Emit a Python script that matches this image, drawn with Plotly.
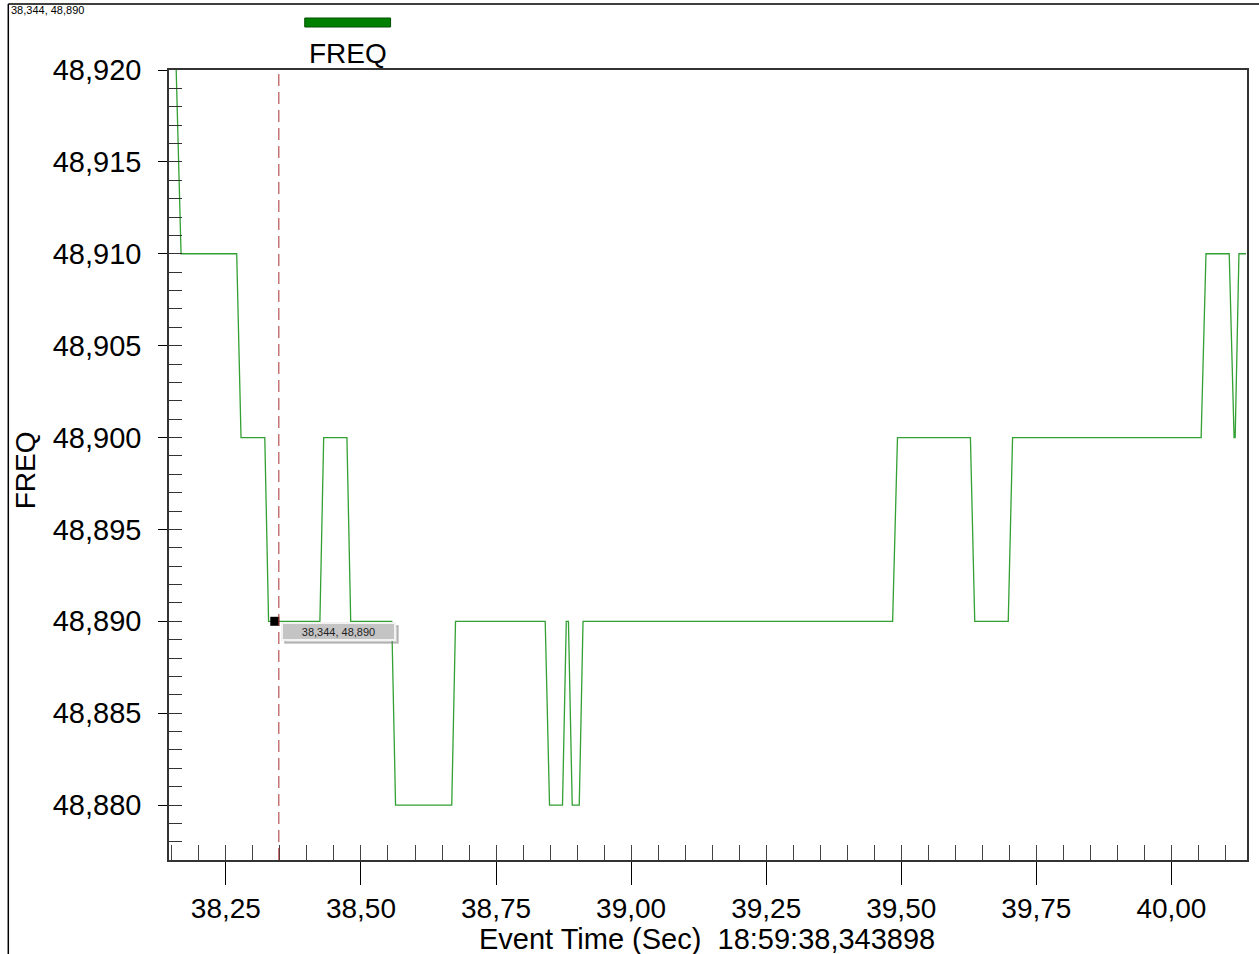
import plotly.graph_objects as go

# ---- data ----
time_s = [38.158, 38.167, 38.270, 38.278, 38.322, 38.329, 38.424, 38.431,
          38.474, 38.481, 38.557, 38.564, 38.668, 38.675, 38.841, 38.849,
          38.873, 38.880, 38.884, 38.891, 38.904, 38.911, 39.484, 39.493,
          39.628, 39.636, 39.698, 39.706, 40.055, 40.064, 40.107, 40.116,
          40.118, 40.125, 40.138]
freq = [48.920, 48.910, 48.910, 48.900, 48.900, 48.890, 48.890, 48.900,
        48.900, 48.890, 48.890, 48.880, 48.880, 48.890, 48.890, 48.880,
        48.880, 48.890, 48.890, 48.880, 48.880, 48.890, 48.890, 48.900,
        48.900, 48.890, 48.890, 48.900, 48.900, 48.910, 48.910, 48.900,
        48.900, 48.910, 48.910]

cursor_t = 38.348
cursor_f = 48.890
cursor_label = "38,344, 48,890"
series_name = "FREQ"
x_title = "Event Time (Sec)  18:59:38,343898"

x_range = [38.1447, 40.1399]
y_range = [48.87701, 48.920]

FONT = "Liberation Sans, Arial, sans-serif"
W, H = 1259, 954
L, R, T, B = 169, 10, 70, 94
PW, PH = W - L - R, H - T - B


def px(xpix):
    return (xpix - L) / PW


def py(ypix):
    return (H - B - ypix) / PH


fig = go.Figure()

# dummy trace so the overlay (minor tick) axes exist
fig.add_trace(go.Scatter(x=time_s, y=freq, xaxis="x2", yaxis="y2",
                         mode="lines", opacity=0, hoverinfo="skip",
                         showlegend=False))

fig.add_trace(go.Scatter(x=time_s, y=freq, mode="lines", name=series_name,
                         line=dict(color="rgb(50,160,50)", width=1.3),
                         showlegend=False))

fig.add_trace(go.Scatter(x=[cursor_t - 0.0075], y=[cursor_f], mode="markers",
                         marker=dict(symbol="square", size=9, color="black"),
                         showlegend=False, hoverinfo="skip"))

axis_common = dict(showgrid=False, zeroline=False)

fig.update_layout(
    width=W, height=H, autosize=False,
    margin=dict(l=L, r=R, t=T, b=B, pad=0),
    paper_bgcolor="white", plot_bgcolor="white",
    separators=",.",
    font=dict(family=FONT, color="black", size=28),
    xaxis=dict(range=x_range, tick0=38.0, dtick=0.25, tickformat=".2f",
               ticks="outside", ticklen=23, tickwidth=1, tickcolor="black",
               showline=True, linecolor="#333", linewidth=1.5, mirror=True,
               tickfont=dict(size=28, family=FONT), **axis_common),
    yaxis=dict(range=y_range, tick0=48.88, dtick=0.005, tickformat=".3f",
               ticks="outside", ticklen=9, tickwidth=1, tickcolor="black",
               showline=True, linecolor="#333", linewidth=1.5, mirror=True,
               ticklabelstandoff=11,
               tickfont=dict(size=29, family=FONT), **axis_common),
    xaxis2=dict(range=x_range, overlaying="x", anchor="y", side="bottom",
                tick0=38.0, dtick=0.05, ticks="inside", ticklen=15,
                tickwidth=1, tickcolor="#444", showticklabels=False,
                showline=False, **axis_common),
    yaxis2=dict(range=y_range, overlaying="y", anchor="x", side="left",
                tick0=48.88, dtick=0.001, ticks="inside", ticklen=13,
                tickwidth=1, tickcolor="#333", showticklabels=False,
                showline=False, **axis_common),
    hovermode=False,
)

shapes = [
    # cursor line
    dict(type="line", xref="x", yref="paper", x0=cursor_t, x1=cursor_t,
         y0=0, y1=1, line=dict(color="#a83030", width=1, dash="12px,6px")),
    # legend swatch
    dict(type="rect", xref="paper", yref="paper",
         x0=px(305), x1=px(391), y0=py(27), y1=py(18),
         fillcolor="#008000", line=dict(color="#005000", width=1)),
    # outer window border
    dict(type="line", xref="paper", yref="paper", x0=px(8), x1=px(1262),
         y0=py(4), y1=py(4), line=dict(color="black", width=1.5)),
    dict(type="line", xref="paper", yref="paper", x0=px(8), x1=px(8),
         y0=py(4), y1=py(960), line=dict(color="black", width=1.5)),
]
fig.update_layout(shapes=shapes)

annotations = [
    # tooltip shadow
    dict(xref="x", yref="y", x=cursor_t, y=cursor_f, xanchor="left",
         yanchor="top", xshift=5, yshift=-4, text=" ", showarrow=False,
         width=111, height=15, borderpad=0, borderwidth=2,
         bordercolor="rgba(120,120,120,0.35)", bgcolor="rgba(120,120,120,0.35)",
         font=dict(size=11, family=FONT)),
    # tooltip
    dict(xref="x", yref="y", x=cursor_t, y=cursor_f, xanchor="left",
         yanchor="top", xshift=2, yshift=-1, text=cursor_label,
         showarrow=False, width=111, height=15, borderpad=0, borderwidth=2,
         bordercolor="#f2f2f2", bgcolor="#c4c4c4",
         font=dict(size=11, family=FONT, color="#222")),
    # top-left readout
    dict(xref="paper", yref="paper", x=px(9), y=py(10), xanchor="left",
         yanchor="middle", text=cursor_label, showarrow=False,
         font=dict(size=11, family=FONT, color="black")),
    # legend label
    dict(xref="paper", yref="paper", x=px(348), y=py(54), xanchor="center",
         yanchor="middle", text=series_name, showarrow=False,
         font=dict(size=28, family=FONT, color="black")),
    # y title
    dict(xref="paper", yref="paper", x=px(25), y=py(470), xanchor="center",
         yanchor="middle", text=series_name, textangle=-90, showarrow=False,
         font=dict(size=28, family=FONT, color="black")),
    # x title
    dict(xref="paper", yref="paper", x=px(708), y=py(939), xanchor="center",
         yanchor="middle", text=x_title, showarrow=False,
         font=dict(size=29, family=FONT, color="black")),
]
fig.update_layout(annotations=annotations)

fig.write_html("out.html")
